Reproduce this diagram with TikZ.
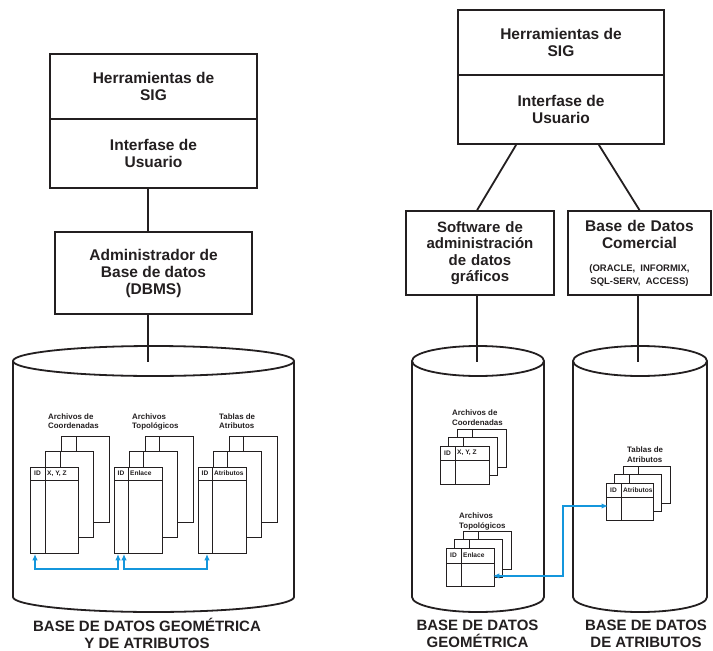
\documentclass[tikz,border=0pt]{standalone}
\usepackage{fontspec}
\setmainfont{Liberation Sans}
\usetikzlibrary{arrows.meta}
\definecolor{ink}{RGB}{35,31,32}
\definecolor{linkblue}{RGB}{20,150,220}
\newcommand\tstack[9]{%
  \foreach \k in {2,1}{%
    \draw[sheet, fill=white] ({#2+\k*#8},{#3-\k*#8}) rectangle ++(#4,#5);
    \draw[sheet] ({#2+\k*#8+#7},{#3-\k*#8}) -- ++(0,#5);
  }
  \node[sheet, draw, fill=white, minimum width=#4pt, minimum height=#5pt, anchor=north west, inner sep=0pt] (#1) at (#2,#3) {};
  \draw[sheet] ([yshift={-#6pt}]#1.north west) -- ([yshift={-#6pt}]#1.north east);
  \draw[sheet] ([xshift={#7pt}]#1.north west) -- ([xshift={#7pt}]#1.south west);
  \node[hdr] at ([xshift={#7*0.5pt}, yshift={-#6*0.5pt}]#1.north west) {ID};
  \node[hdr, anchor=west] at ([xshift={#7pt+2pt}, yshift={-#6*0.5pt}]#1.north west) {#9};
}
\begin{document}
\begin{tikzpicture}[x=1pt, y=-1pt,
  every node/.style={text=ink},
  box/.style={draw=ink, line width=1.8pt, inner sep=0pt, align=center,
    font=\fontsize{15.5}{17}\selectfont\bfseries},
  conn/.style={draw=ink, line width=1.8pt},
  cyl/.style={draw=ink, line width=1.8pt},
  sheet/.style={draw=ink, line width=0.9pt},
  hdr/.style={inner sep=0pt, font=\fontsize{6.6}{7}\selectfont\bfseries},
  lab/.style={inner sep=0pt, align=left, anchor=north west, font=\fontsize{7.9}{9.3}\selectfont\bfseries},
  caption/.style={inner sep=0pt, align=center, font=\fontsize{15}{17}\selectfont\bfseries},
  link/.style={draw=linkblue, line width=1.3pt, {Latex[length=6.5pt,width=5.5pt]}-{Latex[length=6.5pt,width=5.5pt]}}
]
\useasboundingbox (0,0) rectangle (713,651);

% ---------- left system ----------
\node[box, minimum width=207pt, minimum height=65pt] (herr1) at (153.5,86.5) {Herramientas de\\SIG};
\node[box, minimum width=207pt, minimum height=69pt] (int1) at (153.5,153.5) {Interfase de\\Usuario};
\node[box, minimum width=197pt, minimum height=82pt] (dbms) at (153.5,273) {Administrador de\\Base de datos\\(DBMS)};
\coordinate (c1) at (148,362);
\draw[conn] ([xshift=-5.5pt]int1.south) -- ([xshift=-5.5pt]dbms.north);

% cylinder 1
\draw[cyl] (13,361) -- (13,597) arc[start angle=180, end angle=360, x radius=140.5pt, y radius=15pt] -- (294,361);
\draw[cyl, fill=white] (153.5,361) ellipse [x radius=140.5pt, y radius=15pt];
\draw[conn] ([xshift=-5.5pt]dbms.south) -- (c1);

\node[lab] (lA) at (48,413.5) {Archivos de\\Coordenadas};
\node[lab] (lB) at (132,413.5) {Archivos\\Topológicos};
\node[lab] (lC) at (219,413.5) {Tablas de\\Atributos};
\tstack{tA}{30}{467}{48}{86}{13}{15}{15.5}{X, Y, Z}
\tstack{tB}{114}{467}{48}{86}{13}{14}{15.5}{Enlace}
\tstack{tC}{198}{467}{48}{86}{13}{14}{15.5}{Atributos}
\draw[link] ([xshift=5pt]tA.south west) -- ++(0,15) -| ([xshift=4pt]tB.south west);
\draw[link] ([xshift=10pt]tB.south west) -- ++(0,15) -| ([xshift=9pt]tC.south west);

\node[caption] (capL) at (147,633.5) {BASE DE DATOS GEOMÉTRICA\\Y DE ATRIBUTOS};

% ---------- right system ----------
\node[box, minimum width=206pt, minimum height=65pt] (herr2) at (561,42.5) {Herramientas de\\SIG};
\node[box, minimum width=206pt, minimum height=69pt] (int2) at (561,109.5) {Interfase de\\Usuario};
\node[box, minimum width=148pt, minimum height=84pt, text width=140pt, font=\fontsize{15}{16.5}\selectfont\bfseries] (soft) at (480,253) {Software de\\administración\\de datos\\gráficos};
\node[box, minimum width=143pt, minimum height=84pt, text width=140pt] (com) at (639.5,253) {Base de Datos\\Comercial\par\vspace{11pt}{\fontsize{9.5}{12.5}\selectfont (ORACLE, INFORMIX,\\SQL-SERV, ACCESS)\par}};
\draw[conn] ([xshift=59pt]int2.south west) -- ([xshift=72pt]soft.north west);
\draw[conn] ([xshift=-66pt]int2.south east) -- (com.north);
\coordinate (c2) at (477,362);
\coordinate (c3) at (638,362);

% cylinder 2
\draw[cyl] (412,361) -- (412,597) arc[start angle=180, end angle=360, x radius=66pt, y radius=15pt] -- (544,361);
\draw[cyl, fill=white] (478,361) ellipse [x radius=66pt, y radius=15pt];
% cylinder 3
\draw[cyl] (573,361) -- (573,597) arc[start angle=180, end angle=360, x radius=67pt, y radius=15pt] -- (707,361);
\draw[cyl, fill=white] (640,361) ellipse [x radius=67pt, y radius=15pt];
\draw[conn] ([xshift=-3pt]soft.south) -- (c2);
\draw[conn] ([xshift=-1.5pt]com.south) -- (c3);

\node[lab] (lD) at (452,410) {Archivos de\\Coordenadas};
\node[lab] (lT) at (459,513) {Archivos\\Topológicos};
\node[lab] (lR) at (627,447) {Tablas de\\Atributos};
\tstack{tD}{440}{446}{49}{38}{14}{15}{8.5}{X, Y, Z}
\tstack{tT}{446}{548}{48}{38}{15}{15}{8.5}{Enlace}
\tstack{tR}{606}{483}{47}{37}{14}{15}{8.5}{Atributos}
\draw[link] ([xshift=-2pt, yshift=11pt]tT.south east) -- ++(70,0) |- ([xshift=2pt, yshift=-23pt]tR.north west);

\node[caption] (capG) at (477.5,633.5) {BASE DE DATOS\\GEOMÉTRICA};
\node[caption] (capA) at (646,633.5) {BASE DE DATOS\\DE ATRIBUTOS};
\end{tikzpicture}
\end{document}
